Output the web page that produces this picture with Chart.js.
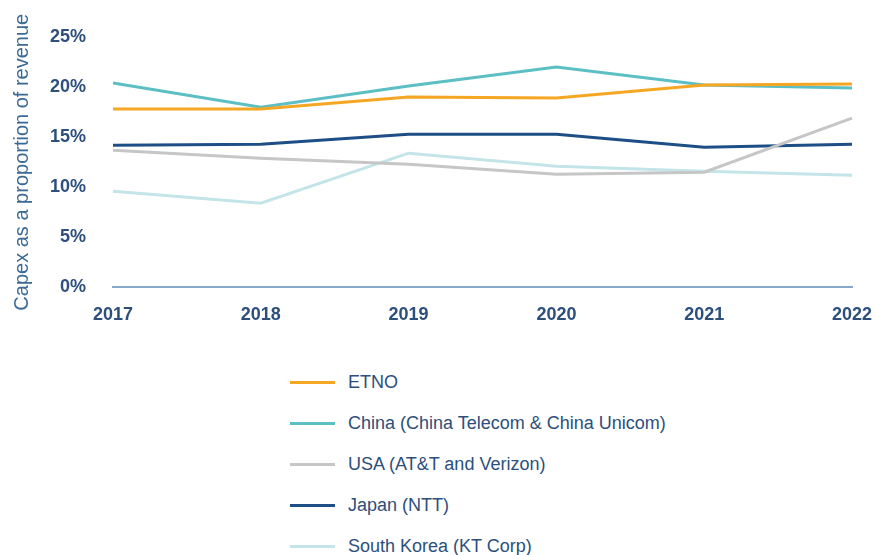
<!DOCTYPE html>
<html>
<head>
<meta charset="utf-8">
<script src="https://cdn.jsdelivr.net/npm/chart.js@4/dist/chart.umd.min.js"></script>
<style>
    html, body { margin: 0; padding: 0; background: #fff; }
    #wrap { position: relative; width: 877px; height: 555px; }
    #chartBox { position: absolute; left: 0; top: 0; width: 877px; height: 340px; }
    #legend { position: absolute; left: 290px; top: 362px; font-family: 'Liberation Sans', Arial, sans-serif; font-size: 18px; color: #2c4f7c; }
    #legend .item { display: flex; align-items: center; height: 41px; }
    #legend .swatch { width: 45px; height: 3px; margin-right: 13px; }
</style>
</head>
<body>
<div id="wrap">
    <div id="chartBox"><canvas id="capexChart"></canvas></div>
    <div id="legend"></div>
</div>
<script>
// Datos (capex como % de ingresos)
const years = ['2017', '2018', '2019', '2020', '2021', '2022'];
const etno = [17.8, 17.8, 19.0, 18.9, 20.2, 20.3];
const china = [20.4, 18.0, 20.1, 22.0, 20.2, 19.9];
const usa = [13.7, 12.9, 12.3, 11.3, 11.5, 16.9];
const japan = [14.2, 14.3, 15.3, 15.3, 14.0, 14.3];
const southKorea = [9.6, 8.4, 13.4, 12.1, 11.6, 11.2];
const yTicks = [0, 5, 10, 15, 20, 25];

const textColor = '#2c4f7c';

function serie(label, data, color) {
    return {
        label: label,
        data: data,
        borderColor: color,
        backgroundColor: color,
        borderWidth: 3,
        pointRadius: 0,
        tension: 0
    };
}

// Leyenda en HTML, una entrada por fila
const htmlLegend = {
    id: 'htmlLegend',
    afterUpdate(chart) {
        const box = document.getElementById('legend');
        box.innerHTML = '';
        chart.data.datasets.forEach(ds => {
            const item = document.createElement('div');
            item.className = 'item';
            item.innerHTML = `<span class="swatch" style="background:${ds.borderColor}"></span><span>${ds.label}</span>`;
            box.appendChild(item);
        });
    }
};

const ctx = document.getElementById('capexChart').getContext('2d');
new Chart(ctx, {
    type: 'line',
    data: {
        labels: years,
        datasets: [
            serie('ETNO', etno, '#f5a623'),
            serie('China (China Telecom & China Unicom)', china, '#5bbfc4'),
            serie('USA (AT&T and Verizon)', usa, '#c6c6c6'),
            serie('Japan (NTT)', japan, '#1d4f86'),
            serie('South Korea (KT Corp)', southKorea, '#c3e4e8')
        ]
    },
    options: {
        responsive: true,
        maintainAspectRatio: false,
        animation: false,
        layout: { padding: { top: 37, right: 25, bottom: 5, left: 10 } },
        scales: {
            x: {
                offset: false,
                afterFit(axis) {
                    axis.paddingRight = 0;
                },
                grid: { display: false },
                border: { color: '#86a8cb', width: 2 },
                ticks: {
                    color: textColor,
                    padding: 9,
                    maxRotation: 0,
                    font: { family: 'Liberation Sans', size: 18, weight: 'bold' }
                }
            },
            y: {
                min: 0,
                max: 25,
                afterBuildTicks(axis) {
                    axis.ticks = yTicks.map(v => ({ value: v }));
                },
                afterFit(axis) {
                    axis.width = 103;
                },
                grid: { display: false },
                border: { display: false },
                ticks: {
                    color: textColor,
                    padding: 19,
                    font: { family: 'Liberation Sans', size: 18, weight: 'bold' },
                    callback: v => v + '%'
                },
                title: {
                    display: true,
                    text: 'Capex as a proportion of revenue',
                    color: '#3a6a96',
                    padding: { top: 0, bottom: 14 },
                    font: { family: 'Liberation Sans', size: 20 }
                }
            }
        },
        plugins: {
            legend: { display: false },
            tooltip: { enabled: false }
        }
    },
    plugins: [htmlLegend]
});
</script>
</body>
</html>
